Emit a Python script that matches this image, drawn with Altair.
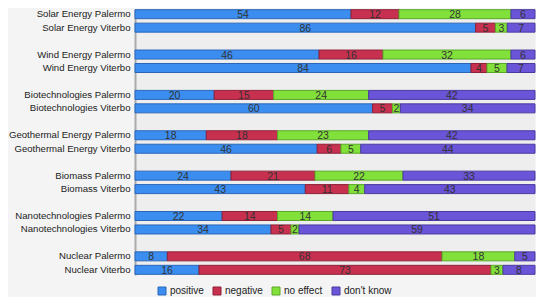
import altair as alt
import pandas as pd

rows = [
    "Solar Energy Palermo", "Solar Energy Viterbo",
    "Wind Energy Palermo", "Wind Energy Viterbo",
    "Biotechnologies Palermo", "Biotechnologies Viterbo",
    "Geothermal Energy Palermo", "Geothermal Energy Viterbo",
    "Biomass Palermo", "Biomass Viterbo",
    "Nanotechnologies Palermo", "Nanotechnologies Viterbo",
    "Nuclear Palermo", "Nuclear Viterbo",
]
categories = ["positive", "negative", "no effect", "don't know"]
positive = [54, 86, 46, 84, 20, 60, 18, 46, 24, 43, 22, 34, 8, 16]
negative = [12, 5, 16, 4, 15, 5, 18, 6, 21, 11, 14, 5, 68, 73]
no_effect = [28, 3, 32, 5, 24, 2, 23, 5, 22, 4, 14, 2, 18, 3]
dont_know = [6, 7, 6, 7, 42, 34, 42, 44, 33, 43, 51, 59, 5, 8]
colors = ["#3b8ef0", "#c8304f", "#82e03a", "#6a54d8"]
borders = ["#2a66b8", "#8e2038", "#5aa828", "#4a3aa0"]

records = []
series = [positive, negative, no_effect, dont_know]
for i, r in enumerate(rows):
    for j, c in enumerate(categories):
        records.append({"row": r, "cat": c, "order": j, "value": series[j][i]})
df = pd.DataFrame(records)

# y domain with blank spacer rows between the pairs
domain = []
for k in range(0, len(rows), 2):
    domain += [rows[k], rows[k + 1]]
    if k + 2 < len(rows):
        domain.append(" " * (k // 2 + 1))

y = alt.Y("row:N", scale=alt.Scale(domain=domain, paddingInner=0.33, paddingOuter=0.05),
          axis=alt.Axis(title=None, ticks=False, labelFontSize=9.6, labelColor="#222",
                        labelFont="Liberation Sans", labelPadding=5,
                        domainColor="#aaaaaa", domainWidth=2, grid=False))

base = alt.Chart(df).transform_stack(
    stack="value", groupby=["row"], as_=["v0", "v1"],
    sort=[alt.SortField("order", order="ascending")], offset="normalize"
).transform_calculate(mid="(datum.v0 + datum.v1) / 2")

bars = base.mark_bar(strokeWidth=1).encode(
    y=y,
    x=alt.X("v0:Q", axis=None, scale=alt.Scale(domain=[0, 1], nice=False)),
    x2="v1:Q",
    color=alt.Color("cat:N", scale=alt.Scale(domain=categories, range=colors),
                    legend=alt.Legend(title=None, orient="none", direction="horizontal",
                                      legendX=22, legendY=277, symbolType="square",
                                      symbolSize=64, symbolStrokeWidth=1, labelOffset=3,
                                      labelFontSize=10, labelFont="Liberation Sans",
                                      labelColor="#222", columnPadding=7)),
    stroke=alt.Stroke("cat:N", scale=alt.Scale(domain=categories, range=borders), legend=None),
)

text = base.mark_text(fontSize=10.5, font="Liberation Sans", color="#333", baseline="middle", dy=1).encode(
    y=alt.Y("row:N", scale=alt.Scale(domain=domain)),
    x=alt.X("mid:Q"),
    text="value:Q",
)

chart = alt.layer(bars, text).properties(
    width=400, height=266, background="#f4f4f4",
    padding={"left": 0, "top": 0, "right": 0, "bottom": 0}
).configure_view(fill="#eeeeee", stroke=None)

chart.save("out.html", embed_options={"renderer": "svg", "actions": False})
